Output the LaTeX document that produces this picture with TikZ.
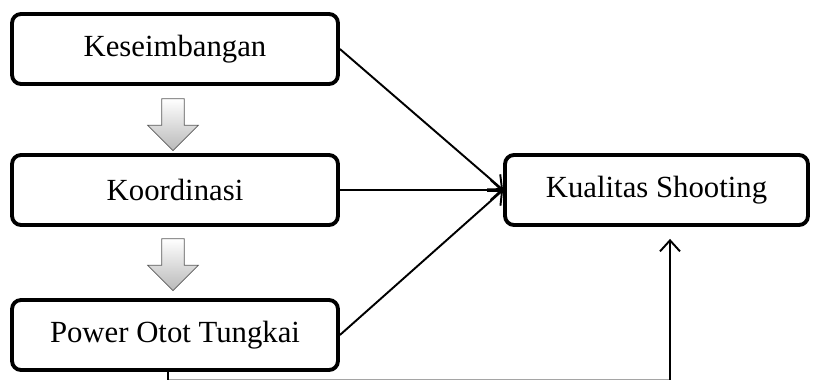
\documentclass[tikz,border=0pt]{standalone}
\usepackage{fontspec}
\setmainfont{Liberation Serif}
\usetikzlibrary{shapes.arrows,arrows.meta}

\begin{document}
\begin{tikzpicture}[x=0.02cm,y=-0.02cm,
	varbox/.style={draw, line width=2.2pt, rounded corners=0.18cm, fill=white, minimum height=1.4cm, font=\fontsize{17.5}{20}\selectfont},
	link/.style={line width=1.1pt, -{Straight Barb[length=0.22cm,width=0.4cm]}},
	blockarrow/.style={single arrow, shape border rotate=270, draw=gray!70!black, top color=white, bottom color=gray!55, inner sep=0.22cm, minimum width=1cm, minimum height=1.04cm, single arrow head extend=0.28cm}]
	\useasboundingbox (0,0) rectangle (822,379);

	\node[varbox, minimum width=6.52cm] (kes) at (175,49) {Keseimbangan};
	\node[varbox, minimum width=6.52cm] (koor) at (175,190) {Koordinasi};
	\node[varbox, minimum width=6.52cm] (power) at (175,335) {Power Otot Tungkai};
	\node[varbox, minimum width=6.06cm] (kualitas) at (656.5,190) {Kualitas Shooting};

	\node[blockarrow] (down1) at (173,119) {};
	\node[blockarrow] (down2) at (173,259) {};

	% panah ke kualitas
	\draw[link] (kes.east) -- (kualitas.west);
	\draw[link] (koor.east) -- (kualitas.west);
	\draw[link] (power.east) -- (kualitas.west);

	\coordinate (corner) at (670,380.5);
	\draw[link] ([xshift=-0.14cm]power.south) |- (corner) -- ([xshift=0.27cm,yshift=-0.24cm]kualitas.south);

\end{tikzpicture}
\end{document}
